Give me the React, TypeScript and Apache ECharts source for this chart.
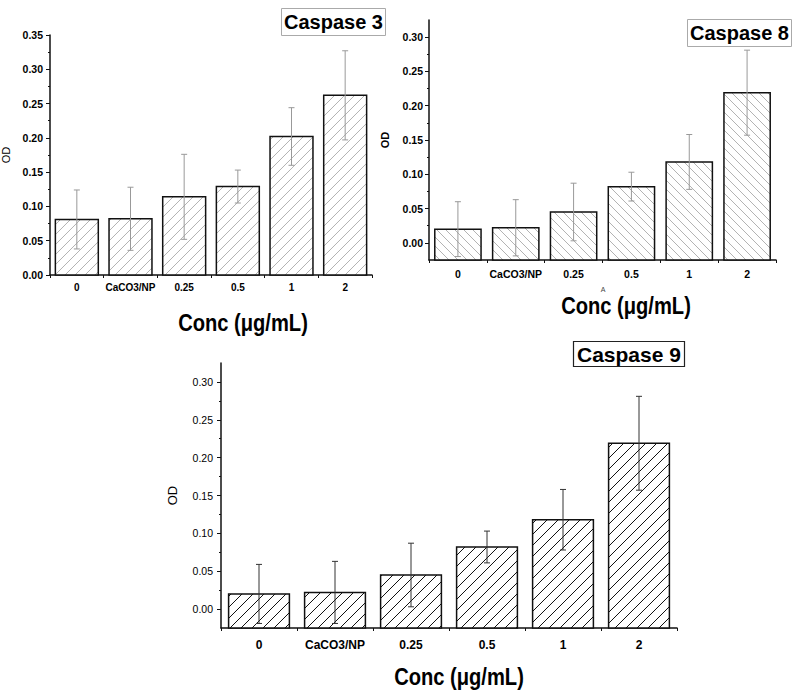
import React, { useEffect, useRef } from "react";
import * as echarts from "echarts";

const categories = ["0", "CaCO3/NP", "0.25", "0.5", "1", "2"];

const casp3Mean = [0.081, 0.082, 0.114, 0.129, 0.202, 0.262];
const casp3Err = [0.043, 0.046, 0.062, 0.024, 0.042, 0.065];

const casp8Mean = [0.02, 0.022, 0.045, 0.082, 0.118, 0.219];
const casp8Err = [0.04, 0.041, 0.042, 0.021, 0.04, 0.062];

const casp9Mean = [0.02, 0.022, 0.045, 0.082, 0.118, 0.219];
const casp9Err = [0.039, 0.041, 0.042, 0.021, 0.04, 0.062];

const y3Min = 0;
const y3Max = 0.35;
const y89Min = -0.025;
const y89Max = 0.325;
const ticks89 = [0, 0.05, 0.1, 0.15, 0.2, 0.25, 0.3];
const minor89 = [0.025, 0.075, 0.125, 0.175, 0.225, 0.275];

const FONT = '"Liberation Sans", Arial, sans-serif';

function errSeries(mean: number[], err: number[], xi: number, yi: number, color: string) {
  return {
    type: "custom",
    xAxisIndex: xi,
    yAxisIndex: yi,
    z: 5,
    encode: { x: 0, y: 1 },
    data: mean.map((v, i) => [i, v, err[i]]),
    renderItem: (params: any, api: any) => {
      const x = api.value(0);
      const v = api.value(1);
      const e = api.value(2);
      const t = api.coord([x, v + e]);
      const b = api.coord([x, v - e]);
      const hw = 3;
      const st = { stroke: color, lineWidth: 1 };
      return {
        type: "group",
        children: [
          { type: "line", shape: { x1: t[0], y1: t[1], x2: b[0], y2: b[1] }, style: st },
          { type: "line", shape: { x1: t[0] - hw, y1: t[1], x2: t[0] + hw, y2: t[1] }, style: st },
          { type: "line", shape: { x1: b[0] - hw, y1: b[1], x2: b[0] + hw, y2: b[1] }, style: st },
        ],
      };
    },
  };
}

// Hatched bar drawn from the axis minimum up to the value
function hatchBars(
  mean: number[],
  xi: number,
  yi: number,
  base: number,
  dir: number, // 1 = "/", -1 = "\"
  spacing: number,
  hatchColor: string,
  hatchWidth: number
) {
  return {
    type: "custom",
    xAxisIndex: xi,
    yAxisIndex: yi,
    z: 2,
    encode: { x: 0, y: 1 },
    data: mean.map((v, i) => [i, v]),
    renderItem: (params: any, api: any) => {
      const i = api.value(0);
      const v = api.value(1);
      const bw = api.size([1, 0])[0] * 0.8;
      const top = api.coord([i, v]);
      const bot = api.coord([i, base]);
      const xa = top[0] - bw / 2;
      const xb = top[0] + bw / 2;
      const ya = top[1];
      const yb = bot[1];
      const children: any[] = [
        { type: "rect", shape: { x: xa, y: ya, width: bw, height: yb - ya }, style: { fill: "#fff" } },
      ];
      const hs = { stroke: hatchColor, lineWidth: hatchWidth };
      if (dir > 0) {
        const cStart = Math.ceil((xa + ya) / spacing) * spacing;
        for (let c = cStart; c <= xb + yb; c += spacing) {
          const lo = Math.max(xa, c - yb);
          const hi = Math.min(xb, c - ya);
          if (hi - lo > 0.5) {
            children.push({ type: "line", shape: { x1: lo, y1: c - lo, x2: hi, y2: c - hi }, style: hs });
          }
        }
      } else {
        const cStart = Math.ceil((ya - xb) / spacing) * spacing;
        for (let c = cStart; c <= yb - xa; c += spacing) {
          const lo = Math.max(xa, ya - c);
          const hi = Math.min(xb, yb - c);
          if (hi - lo > 0.5) {
            children.push({ type: "line", shape: { x1: lo, y1: lo + c, x2: hi, y2: hi + c }, style: hs });
          }
        }
      }
      children.push({
        type: "rect",
        shape: { x: xa, y: ya, width: bw, height: yb - ya },
        style: { fill: "none", stroke: "#111", lineWidth: 1.5 },
      });
      return { type: "group", children };
    },
  };
}

export default function App() {
  const ref = useRef<HTMLDivElement>(null);
  useEffect(() => {
    const chart = echarts.init(ref.current!, null, { renderer: "svg" });
    const xAxisCommon = (gi: number, fs: number, margin: number) => ({
      type: "category",
      gridIndex: gi,
      data: categories,
      axisLine: { onZero: false, lineStyle: { color: "#111", width: 1.5 } },
      axisTick: { show: true, length: 3, inside: false, lineStyle: { color: "#111" } },
      axisLabel: { interval: 0, color: "#000", fontFamily: FONT, fontWeight: "bold", fontSize: fs, margin },
      splitLine: { show: false },
    });
    const minorAxis = (gi: number) => ({
      type: "value",
      gridIndex: gi,
      min: y89Min,
      max: y89Max,
      position: "left",
      axisLine: { show: false },
      axisLabel: { show: false },
      splitLine: { show: false },
      axisTick: { show: true, length: 2, customValues: minor89, lineStyle: { color: "#111" } },
    });
    const titleStyle = (fs: number) => ({
      fontFamily: FONT,
      fontWeight: "bold",
      fontSize: fs,
      color: "#000",
      lineHeight: 22,
    });
    const axisTitle = (x: number, y: number) => ({
      type: "text",
      x,
      y,
      scaleX: 0.875,
      style: { text: "Conc (μg/mL)", font: `bold 23px ${FONT}`, fill: "#000", align: "center", verticalAlign: "middle" },
    });
    const option: any = {
      animation: false,
      backgroundColor: "#fff",
      title: [
        { text: "Caspase 3", left: 281, top: 8, padding: [3, 3, 3, 3], borderColor: "#aaa", borderWidth: 1, textStyle: titleStyle(20) },
        { text: "Caspase 8", left: 687, top: 19, padding: [3, 3, 3, 3], borderColor: "#aaa", borderWidth: 1, textStyle: titleStyle(20) },
        { text: "Caspase 9", left: 573, top: 341, padding: [2, 4, 2, 4], borderColor: "#222", borderWidth: 1.2, textStyle: titleStyle(21) },
      ],
      grid: [
        { left: 50, top: 35, width: 322, height: 240, outerBoundsMode: "none" },
        { left: 429, top: 20, width: 347, height: 240, outerBoundsMode: "none" },
        { left: 221, top: 363, width: 456, height: 265, outerBoundsMode: "none" },
      ],
      xAxis: [xAxisCommon(0, 10, 7), xAxisCommon(1, 10.5, 8), xAxisCommon(2, 12, 11)],
      yAxis: [
        {
          type: "value",
          gridIndex: 0,
          min: y3Min,
          max: y3Max,
          interval: 0.05,
          name: "OD",
          nameLocation: "middle",
          nameGap: 39,
          nameRotate: 90,
          nameTextStyle: { fontFamily: FONT, fontSize: 11, color: "#000" },
          axisLine: { show: true, lineStyle: { color: "#111", width: 1.5 } },
          axisTick: { show: true, length: 4, lineStyle: { color: "#111" } },
          minorTick: { show: true, splitNumber: 2, length: 2, lineStyle: { color: "#111" } },
          axisLabel: {
            color: "#000",
            fontFamily: FONT,
            fontWeight: "bold",
            fontSize: 10.5,
            margin: 7,
            formatter: (v: number) => v.toFixed(2),
          },
          splitLine: { show: false },
          minorSplitLine: { show: false },
        },
        {
          type: "value",
          gridIndex: 1,
          min: y89Min,
          max: y89Max,
          name: "OD",
          nameLocation: "middle",
          nameGap: 39,
          nameRotate: 90,
          nameTextStyle: { fontFamily: FONT, fontSize: 11, fontWeight: "bold", color: "#000" },
          axisLine: { show: true, lineStyle: { color: "#111", width: 1.5 } },
          axisTick: { show: true, length: 4, customValues: ticks89, lineStyle: { color: "#111" } },
          axisLabel: {
            color: "#000",
            fontFamily: FONT,
            fontWeight: "bold",
            fontSize: 10.5,
            margin: 6,
            customValues: ticks89,
            formatter: (v: number) => v.toFixed(2),
          },
          splitLine: { show: false },
        },
        minorAxis(1),
        {
          type: "value",
          gridIndex: 2,
          min: y89Min,
          max: y89Max,
          name: "OD",
          nameLocation: "middle",
          nameGap: 42,
          nameRotate: 90,
          nameTextStyle: { fontFamily: FONT, fontSize: 13, color: "#000" },
          axisLine: { show: true, lineStyle: { color: "#111", width: 1.5 } },
          axisTick: { show: true, length: 4, customValues: ticks89, lineStyle: { color: "#111" } },
          axisLabel: {
            color: "#000",
            fontFamily: FONT,
            fontSize: 10.5,
            margin: 8,
            customValues: ticks89,
            formatter: (v: number) => v.toFixed(2),
          },
          splitLine: { show: false },
        },
        minorAxis(2),
      ],
      graphic: [
        axisTitle(243, 323),
        axisTitle(626, 306),
        {
          type: "text",
          x: 603,
          y: 289,
          style: { text: "A", font: `7px ${FONT}`, fill: "#444", align: "center", verticalAlign: "middle" },
        },
        axisTitle(459, 677),
      ],
      series: [
        hatchBars(casp3Mean, 0, 0, y3Min, 1, 10, "#a0a0a0", 0.8),
        errSeries(casp3Mean, casp3Err, 0, 0, "#999"),
        hatchBars(casp8Mean, 1, 1, y89Min, -1, 9, "#a0a0a0", 0.8),
        errSeries(casp8Mean, casp8Err, 1, 1, "#999"),
        hatchBars(casp9Mean, 2, 3, y89Min, 1, 11, "#111", 1),
        errSeries(casp9Mean, casp9Err, 2, 3, "#333"),
      ],
    };
    chart.setOption(option);
    return () => chart.dispose();
  }, []);
  return (
    <div
      ref={ref}
      style={{ position: "fixed", left: 0, top: 0, width: 796, height: 693, background: "#fff" }}
    />
  );
}
